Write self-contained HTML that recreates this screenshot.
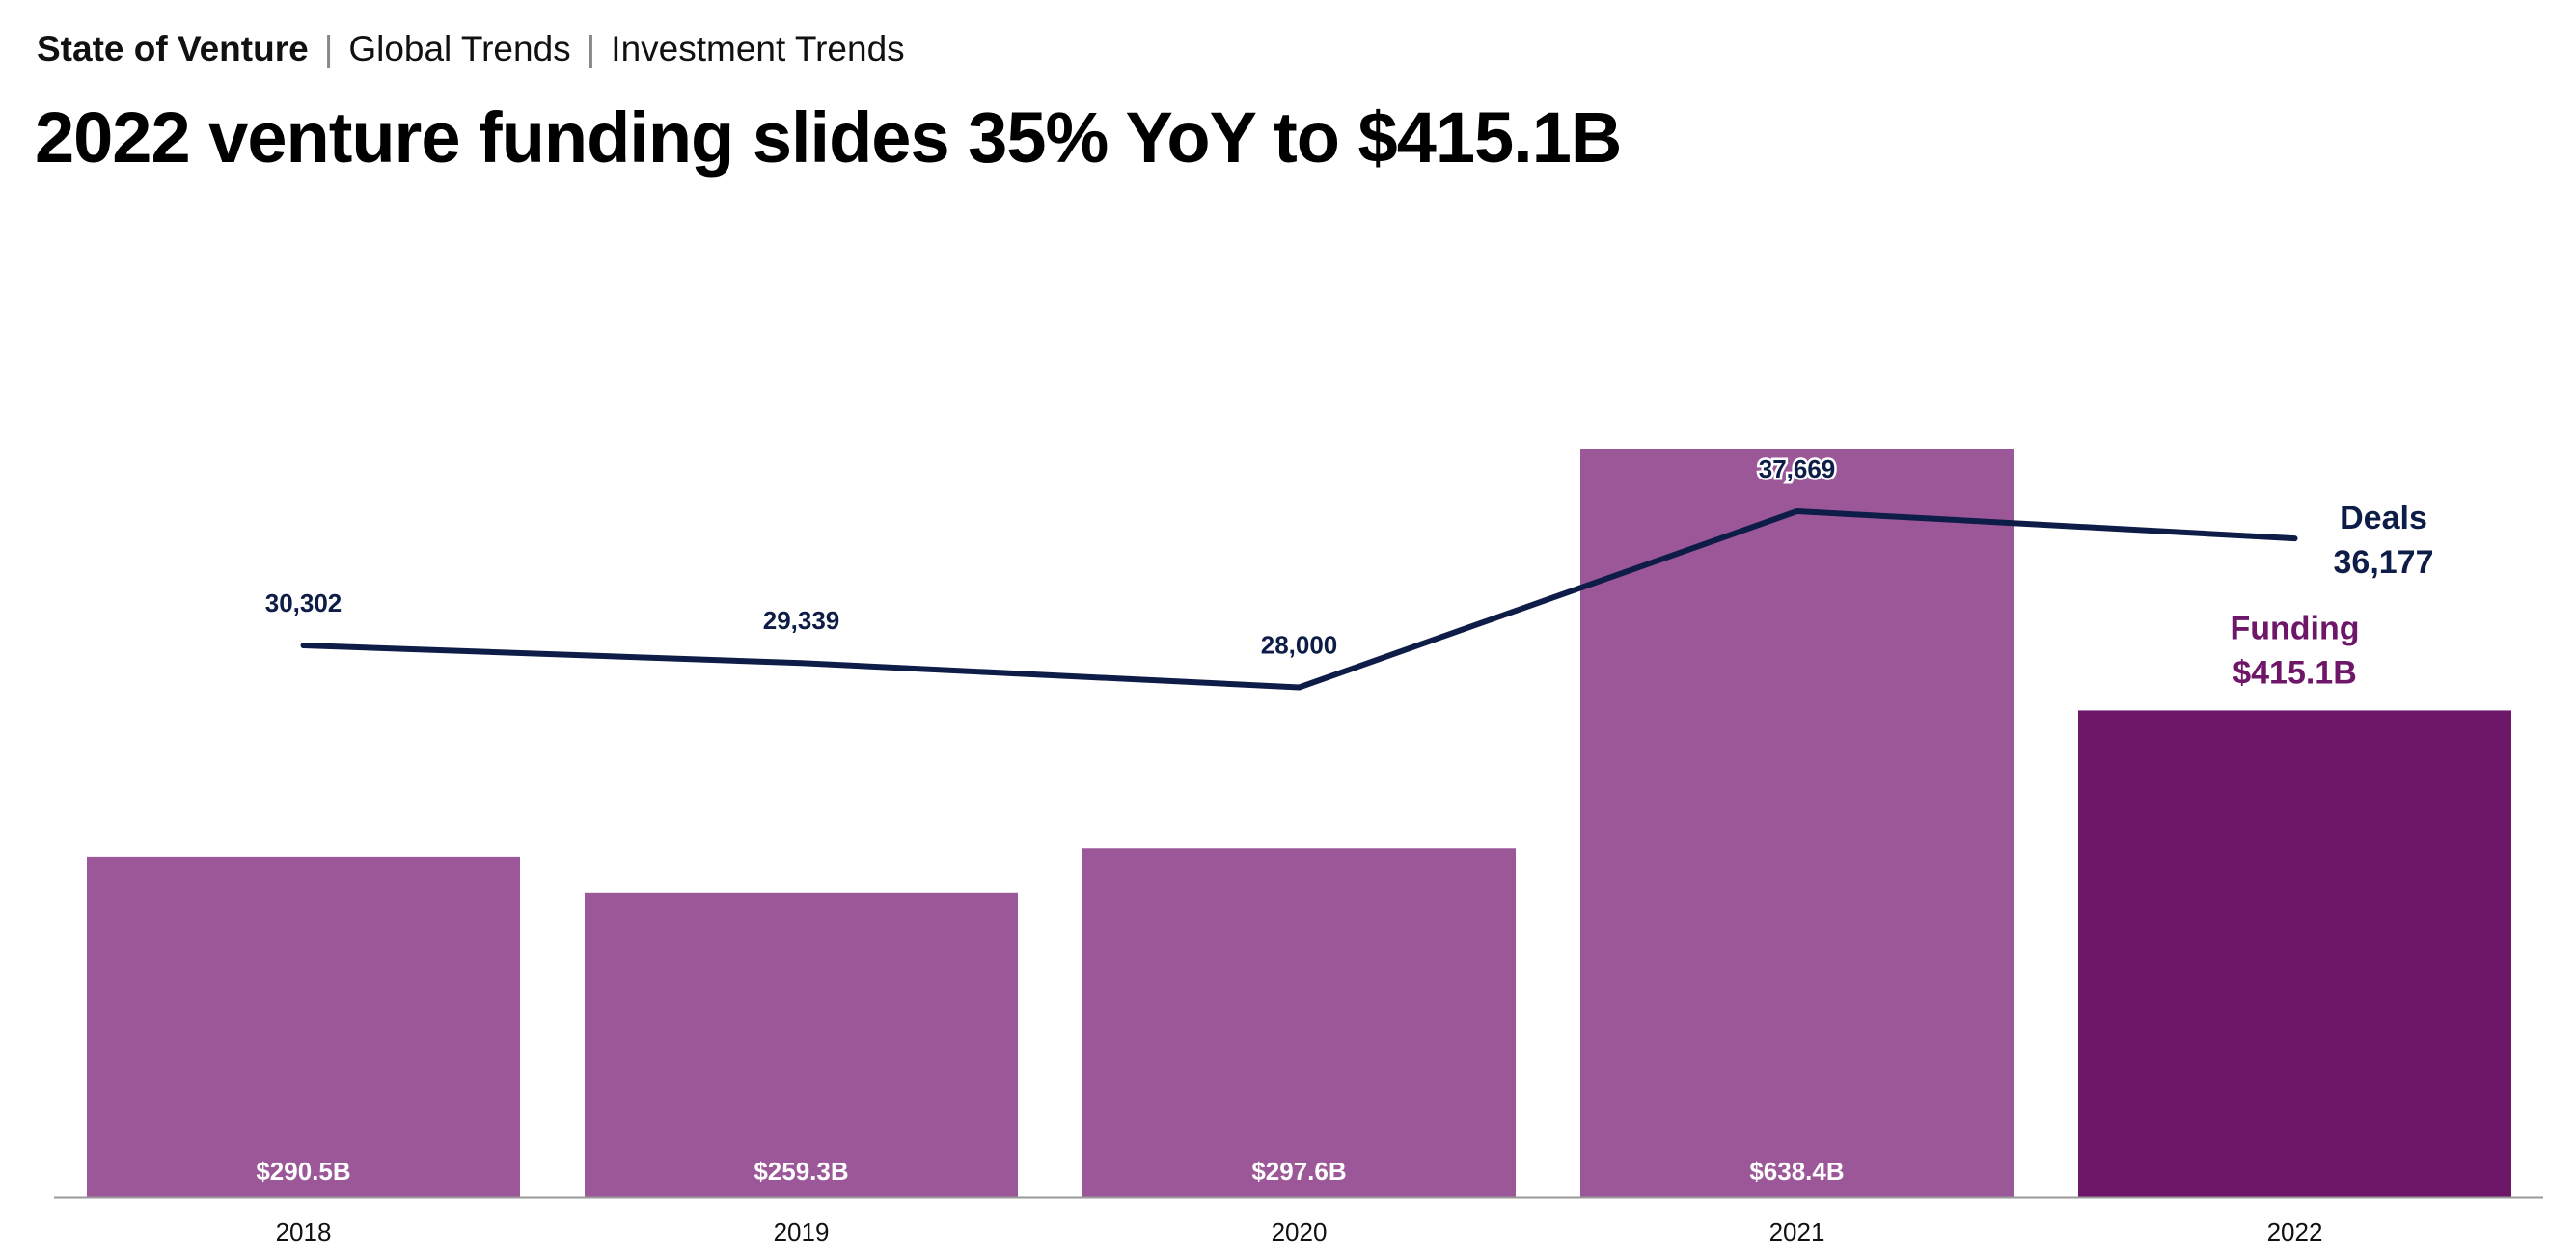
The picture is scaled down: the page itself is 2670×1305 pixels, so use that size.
<!DOCTYPE html>
<html><head><meta charset="utf-8">
<style>
html,body{margin:0;padding:0;background:#fff;}
body{width:2670px;height:1305px;overflow:hidden;position:relative;font-family:"Liberation Sans",sans-serif;}
#crumbs{position:absolute;left:38px;top:30px;font-size:37px;color:#111;white-space:nowrap;}
#crumbs .sep{color:#888;margin:0 16px;}
#title{position:absolute;left:36px;top:100px;font-size:74px;font-weight:bold;color:#000;white-space:nowrap;letter-spacing:-1px;}
svg{position:absolute;left:0;top:0;}
</style></head><body>
<div id="crumbs"><b>State of Venture</b><span class="sep">|</span><span>Global Trends</span><span class="sep">|</span><span>Investment Trends</span></div>
<div id="title">2022 venture funding slides 35% YoY to $415.1B</div>
<svg id="chart" width="2670" height="1305"></svg>
<script>
const years = ["2018","2019","2020","2021","2022"];
const funding = [290.5, 259.3, 297.6, 638.4, 415.1];
const fundingLabels = ["$290.5B","$259.3B","$297.6B","$638.4B","$415.1B"];
const deals = [30302, 29339, 28000, 37669, 36177];
const dealLabels = ["30,302","29,339","28,000","37,669","36,177"];

const NS="http://www.w3.org/2000/svg";
const svg=document.getElementById('chart');
const baseY=1241, x0=56, step=516, barW=449, firstBar=90;
const yF=v=>baseY - v*(776/638.4);
const yD=v=>baseY - v*(711/37669);
const xC=i=>firstBar + i*step + barW/2;
function mk(tag,attrs,parent){const e=document.createElementNS(NS,tag);for(const k in attrs)e.setAttribute(k,attrs[k]);(parent||svg).appendChild(e);return e;}

years.forEach((y,i)=>{
  const top=yF(funding[i]);
  const last=i===years.length-1;
  const r=mk('rect',{x:firstBar+i*step,y:top,width:barW,height:baseY-top,fill:last?'#6e1769':'#9c5799'});
  
  
  if(!last){
    const t=mk('text',{x:xC(i),y:1223,'text-anchor':'middle','font-size':26,'font-weight':'bold',fill:'#fff'});
    t.textContent=fundingLabels[i];
    
    
  }
  const yl=mk('text',{x:xC(i),y:1286,'text-anchor':'middle','font-size':26,fill:'#111'});
  yl.textContent=y;
  
  
});
const ax=mk('line',{x1:x0,x2:2636,y1:baseY+0.5,y2:baseY+0.5,stroke:'#999','stroke-width':2});



const pts=deals.map((d,i)=>xC(i)+','+yD(d)).join(' ');
const pl=mk('polyline',{points:pts,fill:'none',stroke:'#0e1d47','stroke-width':6,'stroke-linejoin':'round','stroke-linecap':'round'});



deals.forEach((d,i)=>{
  if(i===deals.length-1) return;
  const t=mk('text',{x:xC(i),y:yD(d)-35,'text-anchor':'middle','font-size':26,'font-weight':'bold',fill:'#0e1d47',stroke:'#fff','stroke-width':i===3?5:0,'paint-order':'stroke'});
  t.textContent=dealLabels[i];
  
  
});
const li=deals.length-1;
const dl=mk('text',{x:xC(li)+92,y:yD(deals[li])-10,'text-anchor':'middle','font-size':34,'font-weight':'bold',fill:'#0e1d47'});
dl.textContent='Deals';


const dv=mk('text',{x:xC(li)+92,y:yD(deals[li])+36,'text-anchor':'middle','font-size':34,'font-weight':'bold',fill:'#0e1d47'});
dv.textContent=dealLabels[li];


const fl=mk('text',{x:xC(li),y:yF(funding[li])-74,'text-anchor':'middle','font-size':34,'font-weight':'bold',fill:'#6e1769'});
fl.textContent='Funding';


const fv=mk('text',{x:xC(li),y:yF(funding[li])-28,'text-anchor':'middle','font-size':34,'font-weight':'bold',fill:'#6e1769'});
fv.textContent=fundingLabels[li];


</script>
</body></html>
